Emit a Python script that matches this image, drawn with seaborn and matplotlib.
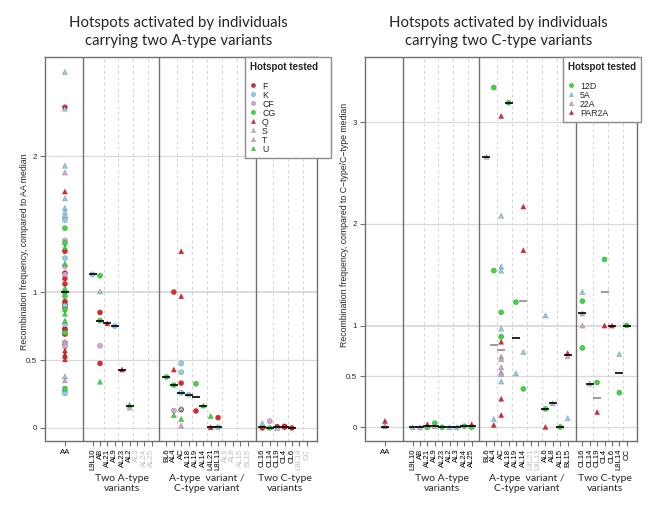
import pandas as pd
import matplotlib
matplotlib.use("Agg")
import matplotlib.pyplot as plt
from matplotlib.lines import Line2D
import seaborn as sns

# x-axis categories, grouped by genotype class
aa_cats = ["AA"]
two_a_cats = ["L9L10", "AB", "AL21", "AL9", "AL23", "AL2", "AL3", "AL24", "AL25"]
a_c_cats = ["BL6", "AL4", "AC", "AL18", "AL19", "AL14", "L4L21", "L8L13",
            "AL6", "AL8", "AL15", "BL15"]
two_c_cats = ["CL16", "CL14", "CL19", "CL4", "CL6", "L8L14", "CC"]

# categories with no data (greyed labels)
left_missing = ["AL3", "AL24", "AL25", "AL6", "AL8", "AL15", "BL15", "L8L14", "CC"]
right_missing = ["L4L21", "L8L13"]

# ---- left chart: hotspots activated by A-type/A-type individuals ----
left_F = [("AA", 2.36), ("AA", 1.30), ("AA", 1.14), ("AA", 1.10), ("AA", 1.06),
          ("AA", 0.93), ("AA", 0.91), ("AA", 0.89), ("AA", 0.73), ("AA", 0.72),
          ("AA", 0.69), ("AB", 0.85), ("AB", 0.475), ("AL4", 1.00), ("AC", 0.33),
          ("AC", 0.135), ("AL19", 0.125), ("L8L13", 0.076), ("CL16", 0.0),
          ("CL19", 0.01), ("CL4", 0.012), ("CL4", 0.005), ("CL6", 0.0)]
left_K = [("AA", 1.55), ("AA", 1.53), ("AA", 1.25), ("AA", 0.90), ("AA", 0.76),
          ("AA", 0.27), ("AA", 0.255), ("L9L10", 1.13), ("AL9", 0.75),
          ("AC", 0.475), ("AC", 0.41), ("AC", 0.26), ("AL18", 0.245), ("L8L13", 0.005)]
left_CF = [("AA", 1.38), ("AA", 1.19), ("AA", 1.13), ("AA", 0.63), ("AA", 0.62),
           ("AA", 0.60), ("AB", 0.605), ("AL4", 0.127), ("CL14", 0.05)]
left_CG = [("AA", 1.47), ("AA", 1.36), ("AA", 1.00), ("AA", 0.97), ("AA", 0.87),
           ("AA", 0.70), ("AA", 0.29), ("AB", 1.12), ("AB", 0.79), ("BL6", 0.375),
           ("AL4", 0.315), ("AL19", 0.325), ("CL14", 0.0)]
left_Q = [("AA", 1.74), ("AA", 0.57), ("AA", 0.54), ("AA", 0.53), ("AA", 0.505),
          ("AL21", 0.77), ("AL23", 0.43), ("AC", 1.30), ("AC", 0.97), ("AL4", 0.43),
          ("L4L21", 0.005)]
left_S = [("AA", 2.62), ("AA", 2.35), ("AA", 1.93), ("AA", 1.69), ("AA", 1.62),
          ("AA", 1.59), ("AA", 0.38), ("AB", 1.005), ("AC", 0.145), ("CL16", 0.035),
          ("CL19", 0.0)]
left_T = [("AA", 1.88), ("AA", 0.35), ("AL2", 0.15), ("AC", 0.017)]
left_U = [("AA", 1.33), ("AA", 1.21), ("AA", 1.03), ("AA", 0.84), ("AA", 0.79),
          ("AB", 0.34), ("AL2", 0.17), ("AL14", 0.165), ("AL4", 0.095),
          ("AC", 0.066), ("L4L21", 0.088)]
left_medians = [("AA", 1.0), ("L9L10", 1.13), ("AB", 0.79), ("AL21", 0.77),
                ("AL9", 0.75), ("AL23", 0.43), ("AL2", 0.16), ("BL6", 0.375),
                ("AL4", 0.315), ("AC", 0.26), ("AL18", 0.245), ("AL19", 0.225),
                ("AL14", 0.165), ("L4L21", 0.005), ("L8L13", 0.005), ("CL16", 0.01),
                ("CL14", 0.0), ("CL19", 0.005), ("CL4", 0.01), ("CL6", 0.0)]

# ---- right chart: hotspots activated by C-type/C-type individuals ----
right_12D = [("AL21", 0.0), ("AL9", 0.04), ("AL23", 0.0), ("AL24", 0.01),
             ("AL25", 0.0), ("AL4", 3.34), ("AL4", 1.54), ("AL18", 3.19),
             ("AC", 1.13), ("AC", 0.89), ("AL19", 1.23), ("AL14", 0.377),
             ("AL6", 0.18), ("AL15", 0.003), ("CL16", 1.24), ("CL16", 0.78),
             ("CL4", 1.65), ("CL19", 0.44), ("L8L14", 0.34), ("CC", 1.0)]
right_5A = [("AA", 0.01), ("L9L10", 0.0), ("AL2", 0.0), ("AL3", 0.0),
            ("AC", 2.08), ("AC", 1.58), ("AC", 1.54), ("AC", 0.97), ("AC", 0.45),
            ("AL6", 1.10), ("AL14", 0.74), ("AL19", 0.53), ("AL4", 0.082),
            ("BL15", 0.089), ("AL8", 0.236), ("CL16", 1.33), ("L8L14", 0.72)]
right_22A = [("AA", 0.016), ("AB", 0.0), ("AL9", 0.01), ("BL6", 2.66),
             ("AC", 0.695), ("AC", 0.67), ("AC", 0.59), ("AC", 0.54), ("AC", 0.525),
             ("BL15", 0.70), ("CL16", 1.12), ("CL16", 1.0), ("CL14", 0.43)]
right_PAR2A = [("AA", 0.062), ("AL21", 0.03), ("AL25", 0.03), ("AC", 3.06),
               ("AC", 0.84), ("AC", 0.28), ("AC", 0.12), ("AL14", 2.17),
               ("AL14", 1.74), ("AL4", 0.023), ("AL6", 0.003), ("BL15", 0.73),
               ("CL19", 0.15), ("CL4", 1.0), ("CL6", 1.0)]
right_medians = [("AA", 0.0), ("L9L10", 0.0), ("AB", 0.0), ("AL21", 0.01),
                 ("AL9", 0.01), ("AL23", 0.0), ("AL2", 0.0), ("AL3", 0.0),
                 ("AL24", 0.01), ("AL25", 0.01), ("BL6", 2.66), ("AL18", 3.19),
                 ("AL19", 0.88), ("AL8", 0.236), ("AL6", 0.18), ("AL15", 0.003),
                 ("BL15", 0.715), ("CL16", 1.12), ("CL14", 0.43), ("CL6", 1.0),
                 ("CC", 1.0), ("L8L14", 0.53)]
right_medians_grey = [("AL4", 0.81), ("AC", 0.76), ("AL14", 1.24), ("CL19", 0.29),
                      ("CL4", 1.33)]

RED, BLUE, PINK, GREEN = "#E3262B", "#8CCAEE", "#D6A2D8", "#3AD83A"

left_palette = {"F": RED, "K": BLUE, "CF": PINK, "CG": GREEN,
                "Q": RED, "S": BLUE, "T": PINK, "U": GREEN}
left_markers = {"F": "o", "K": "o", "CF": "o", "CG": "o",
                "Q": "^", "S": "^", "T": "^", "U": "^"}
right_palette = {"12D": GREEN, "5A": BLUE, "22A": PINK, "PAR2A": RED}
right_markers = {"12D": "o", "5A": "^", "22A": "^", "PAR2A": "^"}

# x positions: one empty slot between groups
xpos = {"AA": -2.75}
for i, c in enumerate(two_a_cats):
    xpos[c] = 1 + i
for i, c in enumerate(a_c_cats):
    xpos[c] = 11 + i
for i, c in enumerate(two_c_cats):
    xpos[c] = 24 + i
all_cats = aa_cats + two_a_cats + a_c_cats + two_c_cats

sns.set_style("white")
plt.rcParams["font.family"] = ["Liberation Sans", "DejaVu Sans"]

fig = plt.figure(figsize=(6.56, 5.07), dpi=100)
ax1 = fig.add_axes([45 / 656, 66 / 507, 272 / 656, 384 / 507])
ax2 = fig.add_axes([365 / 656, 66 / 507, 272 / 656, 384 / 507])


def to_frame(points):
    rows = [(hs, cat, v) for hs, pts in points.items() for cat, v in pts]
    df = pd.DataFrame(rows, columns=["hotspot", "category", "value"])
    df["x"] = df["category"].map(xpos)
    return df


def draw_panel(ax, points, palette, markers, medians, medians_grey,
               ylim, yticks, yticklabels, missing):
    ax.set_xlim(-5.45, 31.4)
    ax.set_ylim(*ylim)
    for y in yticks:
        ax.axhline(y, color="#d9d9d9", lw=1.3 if y == 1 else 0.9, zorder=0.5)
    for xv in [2.5, 4.5, 6.5, 8.5, 12.5, 14.5, 16.5, 18.5, 20.5, 25.5, 27.5, 29.5]:
        ax.axvline(xv, color="#d4d4d4", lw=0.7, ls=(0, (3, 3)), zorder=0.5)
    for xv in [-0.3, 10, 23.1]:
        ax.axvline(xv, color="#707070", lw=1.0, zorder=1)

    df = to_frame(points)
    sns.scatterplot(data=df, x="x", y="value", hue="hotspot", style="hotspot",
                    palette=palette, markers=markers, hue_order=list(points),
                    style_order=list(points), s=14, linewidth=0.35,
                    edgecolor=(0, 0, 0, 0.3), legend=False, ax=ax, zorder=3)

    med = pd.DataFrame(medians, columns=["category", "value"])
    ax.scatter(med["category"].map(xpos), med["value"], marker="_", s=26,
               linewidths=1.2, color="black", zorder=4)
    if medians_grey:
        medg = pd.DataFrame(medians_grey, columns=["category", "value"])
        ax.scatter(medg["category"].map(xpos), medg["value"], marker="_", s=26,
                   linewidths=1.2, color="#8a8a8a", zorder=4)

    ax.set_xticks([xpos[c] for c in all_cats])
    ax.set_xticklabels(all_cats, fontsize=5.6)
    for lab, c in zip(ax.get_xticklabels(), all_cats):
        lab.set_rotation(0 if c == "AA" else 90)
        lab.set_color("#c0c0c0" if c in missing else "black")
    ax.set_yticks(yticks)
    ax.set_yticklabels(yticklabels, fontsize=5.8)
    ax.tick_params(axis="both", length=3.5, width=0.8, color="#707070", pad=2)
    ax.tick_params(axis="x", bottom=True)
    ax.tick_params(axis="y", left=True)
    ax.set_xlabel("")
    ax.set_ylabel("")
    for sp in ax.spines.values():
        sp.set_color("#707070")
        sp.set_linewidth(1.0)

    trans = ax.get_xaxis_transform()
    groups = [("Two A-type\nvariants", 5.0),
              ("A-type  variant /\nC-type variant", 16.5),
              ("Two C-type\nvariants", 27.1)]
    for txt, xc in groups:
        ax.text(xc, -0.085, txt, transform=trans, ha="center", va="top",
                fontsize=7.5, family="Lato", linespacing=1.15)


draw_panel(ax1,
           {"F": left_F, "K": left_K, "CF": left_CF, "CG": left_CG,
            "Q": left_Q, "S": left_S, "T": left_T, "U": left_U},
           left_palette, left_markers, left_medians, [],
           (-0.096, 2.73), [0, 0.5, 1, 2], ["0", "0.5", "1", "2"], left_missing)
draw_panel(ax2,
           {"12D": right_12D, "5A": right_5A, "22A": right_22A, "PAR2A": right_PAR2A},
           right_palette, right_markers, right_medians, right_medians_grey,
           (-0.135, 3.64), [0, 0.5, 1, 2, 3], ["0", "0.5", "1", "2", "3"],
           right_missing)

# titles
for ax, title in [(ax1, "Hotspots activated by individuals\ncarrying two A-type variants"),
                  (ax2, "Hotspots activated by individuals\ncarrying two C-type variants")]:
    ax.text(0.49, 1.0 + 25 / 384, title, transform=ax.transAxes, ha="center",
            va="center", fontsize=10.8, family="Lato", linespacing=1.45)

fig.text(24.5 / 656, 1 - 252 / 507,
         "Recombination frequency, compared to AA median",
         rotation=90, ha="center", va="center", fontsize=6.3)
fig.text(344.5 / 656, 1 - 225 / 507,
         "Recombination frequency, compared to C\u2212type/C\u2212type median",
         rotation=90, ha="center", va="center", fontsize=6.3)


def make_legend(palette, markers, anchor, title):
    handles = [Line2D([], [], marker=markers[k], color=palette[k], linestyle="None",
                      markersize=3.2, markeredgewidth=0.3,
                      markeredgecolor=(0, 0, 0, 0.3)) for k in palette]
    leg = fig.legend(handles, list(palette), loc="upper left", bbox_to_anchor=anchor,
                     borderaxespad=0, fontsize=6.3, title=title, frameon=True,
                     fancybox=False, handlelength=0.8, handletextpad=0.6,
                     labelspacing=0.0, borderpad=0.55,
                     title_fontproperties={"weight": "bold", "size": 7})
    leg._legend_box.align = "left"
    leg._legend_box.sep = 7
    frame = leg.get_frame()
    frame.set_edgecolor("#8c8c8c")
    frame.set_linewidth(1.0)
    frame.set_facecolor("white")
    frame.set_alpha(1)
    return leg


make_legend(left_palette, left_markers, (245 / 656, 1 - 57 / 507), "Hotspot tested   ")
make_legend(right_palette, right_markers, (563 / 656, 1 - 57 / 507), "Hotspot tested")

fig.savefig("out.png", dpi=100)
